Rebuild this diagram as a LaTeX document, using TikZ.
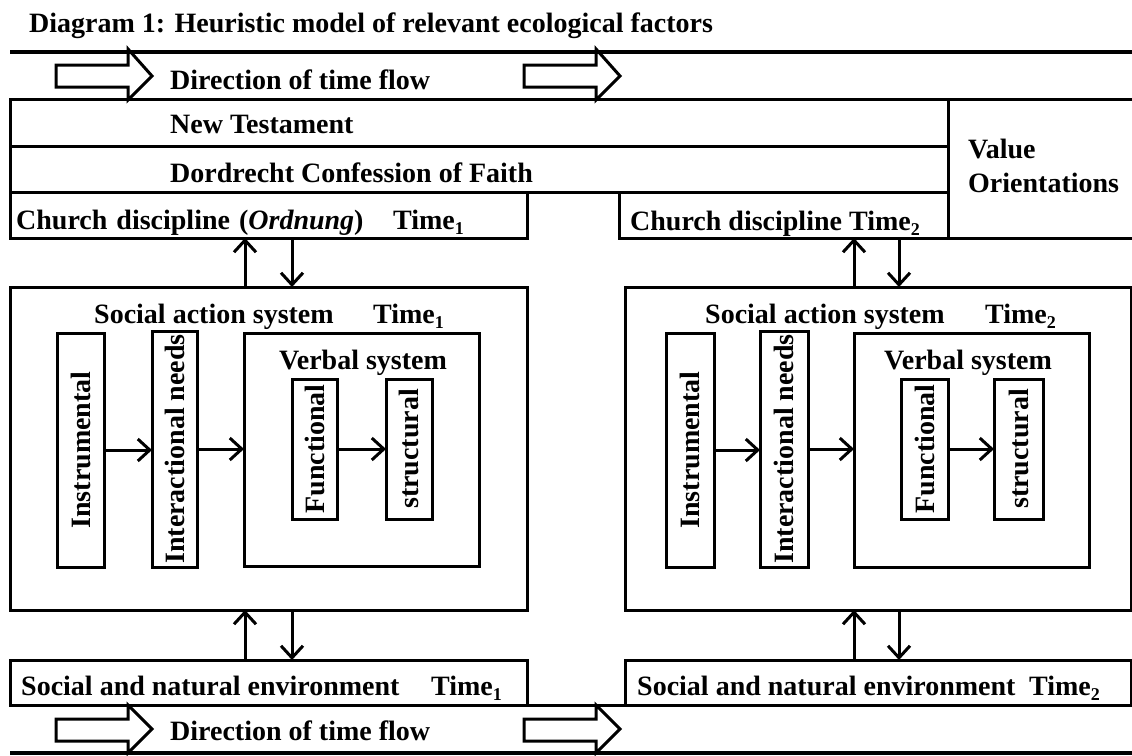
\documentclass[tikz,border=0pt]{standalone}
\usepackage{fontspec}
\setmainfont{Liberation Serif}
\usetikzlibrary{arrows.meta}
\newcommand\tsub[1]{\raisebox{-5pt}{\fontsize{18}{18}\selectfont #1}}
\begin{document}
\begin{tikzpicture}[x=1pt,y=-1pt,
 box/.style={draw, line width=3pt, inner sep=0pt, outer sep=0pt, anchor=north west},
 txt/.style={font=\fontsize{28}{32}\selectfont\bfseries, inner sep=0pt, anchor=base west},
 vtxt/.style={font=\fontsize{28}{32}\selectfont\bfseries, inner sep=0pt, rotate=90},
 arr/.style={line width=3pt, -{Straight Barb[length=12pt,width=22pt,line width=3pt]}},
 band/.style={line width=3.5pt},
 flow/.style={draw, line width=3pt, line join=miter}]
\useasboundingbox (0,0) rectangle (1132,755);

% title
\node[txt] (title) at (29,32) {Diagram 1: Heuristic model of relevant ecological factors};

% top time band
\coordinate (tbL) at (10,52); \coordinate (tbR) at (1134,52);
\draw[band] (tbL) -- (tbR);
\draw[flow] (56,65) -- (128,65) -- (128,49) -- (152,76) -- (128,100) -- (128,87) -- (56,87) -- cycle;
\draw[flow] (524,65) -- (596,65) -- (596,49) -- (620,76) -- (596,100) -- (596,87) -- (524,87) -- cycle;
\node[txt] (dir1) at (170,89) {Direction of time flow};

% value-orientation area
\node[box, minimum width=938pt, minimum height=47pt] (nt) at (10,99) {};
\node[box, minimum width=938pt, minimum height=46pt] (dc) at (10,146) {};
\node[box, minimum width=517pt, minimum height=46pt] (cd1) at (10,192) {};
\node[box, minimum width=329pt, minimum height=46pt] (cd2) at (619,192) {};
\node[box, minimum width=200pt, minimum height=139pt] (vo) at (948,99) {};
\node[txt] (ntt) at (170,133) {New Testament};
\node[txt] (dct) at (170,182) {Dordrecht Confession of Faith};
\node[txt] (cd1t) at (16,229) {Church\hspace{2pt} discipline\hspace{2pt} (\textit{Ordnung})};
\node[txt] (cd1time) at (393,229) {Time\tsub{1}};
\node[txt] (cd2t) at (630,230) {Church discipline Time\tsub{2}};
\node[txt] (vot1) at (968,158) {Value};
\node[txt] (vot2) at (968,192) {Orientations};

% social action systems
\node[box, minimum width=517pt, minimum height=323pt] (s1) at (10,287) {};
\node[box, minimum width=506pt, minimum height=323pt] (s2) at (625,287) {};
\node[txt] (s1t) at (94,323) {Social action system};
\node[txt] (s1time) at (373,323) {Time\tsub{1}};
\node[txt] (s2t) at (705,323) {Social action system};
\node[txt] (s2time) at (985,323) {Time\tsub{2}};

% left inner
\node[box, anchor=center, minimum width=47pt, minimum height=234pt] (ins1) at (80.5,450) {};
\node[vtxt] at (ins1) {Instrumental};
\node[box, anchor=center, minimum width=45pt, minimum height=236pt] (int1) at (174.5,449) {};
\node[vtxt] at (int1) {Interactional needs};
\node[box, minimum width=235pt, minimum height=233pt] (vb1) at (244,333) {};
\node[txt] (vb1t) at (279,369) {Verbal system};
\node[box, minimum width=45pt, minimum height=140pt] (fn1) at (292,379) {};
\node[vtxt] at (fn1) {Functional};
\node[box, minimum width=46pt, minimum height=140pt] (st1) at (386,379) {};
\node[vtxt] at (st1) {structural};
\draw[arr] (ins1.east) -- (ins1.east -| int1.west);
\draw[arr] (int1.east) -- (int1.east -| vb1.west);
\draw[arr] (fn1.east) -- (fn1.east -| st1.west);

% right inner
\node[box, anchor=center, minimum width=48pt, minimum height=234pt] (ins2) at (690,450) {};
\node[vtxt] at (ins2) {Instrumental};
\node[box, anchor=center, minimum width=48pt, minimum height=236pt] (int2) at (784,449) {};
\node[vtxt] at (int2) {Interactional needs};
\node[box, minimum width=235pt, minimum height=234pt] (vb2) at (854,333) {};
\node[txt] (vb2t) at (884,369) {Verbal system};
\node[box, minimum width=47pt, minimum height=140pt] (fn2) at (901,379) {};
\node[vtxt] at (fn2) {Functional};
\node[box, minimum width=49pt, minimum height=140pt] (st2) at (994,379) {};
\node[vtxt] at (st2) {structural};
\draw[arr] (ins2.east) -- (ins2.east -| int2.west);
\draw[arr] (int2.east) -- (int2.east -| vb2.west);
\draw[arr] (fn2.east) -- (fn2.east -| st2.west);

% environments
\node[box, minimum width=517pt, minimum height=45pt] (e1) at (10,660) {};
\node[box, minimum width=506pt, minimum height=45pt] (e2) at (625,660) {};
\draw[line width=3pt] (e1.south east) -- (e2.south west);
\node[txt] (e1t) at (21,695) {Social and natural environment};
\node[txt] (e1time) at (431,695) {Time\tsub{1}};
\node[txt] (e2t) at (637,695) {Social and natural environment};
\node[txt] (e2time) at (1029,695) {Time\tsub{2}};

% vertical exchanges
\coordinate (a1) at (245,0); \coordinate (a2) at (292,0);
\coordinate (a3) at (854,0); \coordinate (a4) at (899,0);
\draw[arr] (s1.north -| a1) -- (cd1.south -| a1);
\draw[arr] (cd1.south -| a2) -- (s1.north -| a2);
\draw[arr] (s2.north -| a3) -- (cd2.south -| a3);
\draw[arr] (cd2.south -| a4) -- (s2.north -| a4);
\draw[arr] (e1.north -| a1) -- (s1.south -| a1);
\draw[arr] (s1.south -| a2) -- (e1.north -| a2);
\draw[arr] (e2.north -| a3) -- (s2.south -| a3);
\draw[arr] (s2.south -| a4) -- (e2.north -| a4);

% bottom time band
\coordinate (bbL) at (10,753); \coordinate (bbR) at (1134,753);
\draw[band] (bbL) -- (bbR);
\draw[flow] (56,719) -- (128,719) -- (128,705) -- (152,729) -- (128,753) -- (128,741) -- (56,741) -- cycle;
\draw[flow] (524,719) -- (596,719) -- (596,705) -- (620,729) -- (596,753) -- (596,741) -- (524,741) -- cycle;
\node[txt] (dir2) at (170,740) {Direction of time flow};
\end{tikzpicture}
\end{document}
